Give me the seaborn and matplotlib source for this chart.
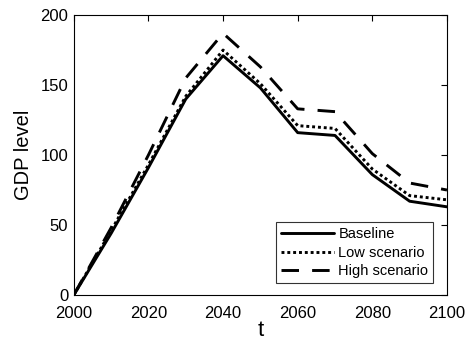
import matplotlib
matplotlib.use("Agg")
import matplotlib.pyplot as plt
import seaborn as sns
import pandas as pd

years = [2000, 2010, 2020, 2030, 2040, 2050, 2060, 2070, 2080, 2090, 2100]
baseline = [0, 44, 91, 140, 171, 148, 116, 114, 86, 67, 63]
low_scenario = [0, 46, 93, 142, 175, 151, 121, 119, 90, 71, 68]
high_scenario = [0, 48, 100, 155, 187, 163, 133, 131, 101, 80, 75]
series_names = ["Baseline", "Low scenario", "High scenario"]

sns.set_style("white")
plt.rcParams["font.family"] = ["Liberation Sans", "DejaVu Sans"]
plt.rcParams["text.color"] = "black"
plt.rcParams["axes.labelcolor"] = "black"

df = pd.concat([
    pd.DataFrame({"t": years, "GDP level": vals, "series": name})
    for name, vals in zip(series_names, [baseline, low_scenario, high_scenario])
])

fig = plt.figure(figsize=(4.7, 3.43), dpi=100)
ax = fig.add_axes([0.157, 0.140, 0.794, 0.816])

dashes = {"Baseline": "", "Low scenario": (1, 1), "High scenario": (6, 4.5)}
sns.lineplot(data=df, x="t", y="GDP level", style="series", dashes=dashes,
             color="black", linewidth=2.1, ax=ax, legend=True)

ax.set_xlim(2000, 2100)
ax.set_ylim(0, 200)
ax.set_xticks(range(2000, 2101, 20))
ax.set_yticks(range(0, 201, 50))
ax.tick_params(direction="in", length=4, width=0.8, labelsize=12,
               top=True, right=True, colors="black")
ax.tick_params(axis="x", pad=8)
ax.tick_params(axis="y", pad=4)
for s in ax.spines.values():
    s.set_color("black")
    s.set_linewidth(0.8)
ax.set_xlabel("t", fontsize=16, labelpad=-1, color="black")
ax.set_ylabel("GDP level", fontsize=14.5, labelpad=5, color="black")

leg = ax.legend(loc="lower right", fontsize=10.5, frameon=True, fancybox=False,
                edgecolor="black", handlelength=3.6, borderaxespad=0.8,
                handletextpad=0.3, labelspacing=0.3, borderpad=0.35,
                bbox_to_anchor=(0.995, 0.0))
leg.get_frame().set_linewidth(0.8)
for text in leg.get_texts():
    text.set_color("black")
for line in leg.get_lines():
    line.set_linewidth(2.1)

fig.savefig("out.png", dpi=100)
